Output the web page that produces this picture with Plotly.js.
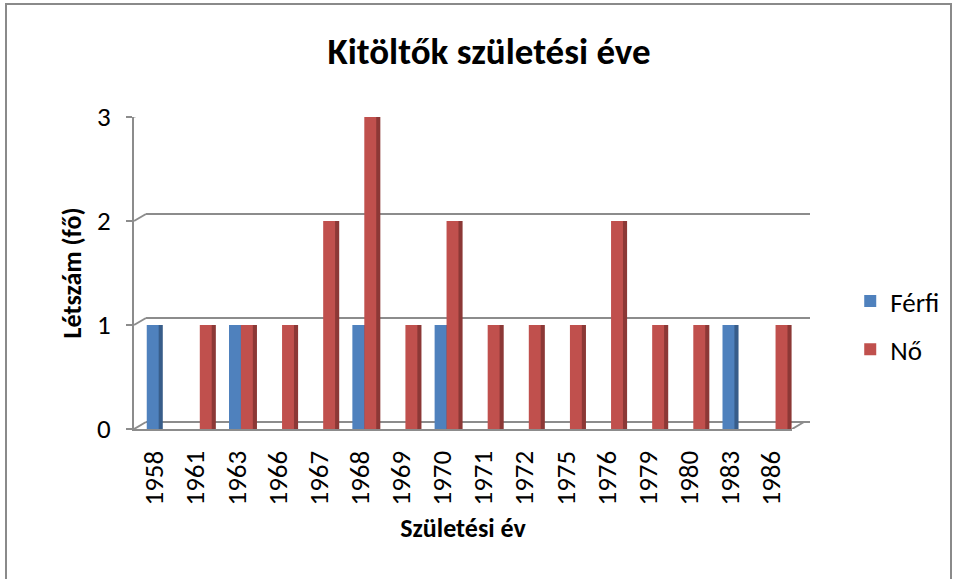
<!DOCTYPE html>
<html>
<head>
<meta charset="utf-8">
<script src="https://cdn.plot.ly/plotly-3.0.1.min.js"></script>
<style>
html,body{margin:0;padding:0;background:#fff;}
#wrap{position:relative;width:957px;height:579px;overflow:hidden;}
#chart{position:absolute;left:0;top:0;width:957px;height:579px;}
#frame{position:absolute;left:5px;top:3px;width:947px;height:600px;border:2px solid #8a8a8a;pointer-events:none;box-sizing:border-box;}
</style>
</head>
<body>
<div id="wrap"><div id="chart"></div><div id="frame"></div></div>
<script>
var years = ['1958','1961','1963','1966','1967','1968','1969','1970','1971','1972','1975','1976','1979','1980','1983','1986'];
var ferfi = [1,0,1,0,0,1,0,1,0,0,0,0,0,0,1,0];
var no    = [0,1,1,1,2,3,1,2,1,1,1,2,1,1,0,1];
var seriesNames = ['Férfi','Nő'];
var colors = ['#4F81BD','#C0504D'];
var sideColors = ['#385D8A','#8C3836'];
var yTicks = [0,1,2,3];

var font = 'Carlito, Calibri, "Liberation Sans", "Open Sans", sans-serif';

var barW = 0.29, depth = 0.1;
var offs = [-0.19, 0.10];
var series = [ferfi, no];
var traces = [];
for (var s = 0; s < 2; s++) {
  traces.push({type:'bar', x:years, y:series[s], showlegend:false, hoverinfo:'skip',
    width:barW, offset:offs[s]+depth, marker:{color:sideColors[s], line:{width:0}}});
  traces.push({type:'bar', name:seriesNames[s], x:years, y:series[s], legendgroup:'g'+s,
    width:barW, offset:offs[s], marker:{color:colors[s], line:{width:0}}});
}

var gridShapes = [];
var gcol = '#8c8c8c';
yTicks.forEach(function(v){
  gridShapes.push({type:'line', layer:'below', xref:'paper', xsizemode:'pixel', xanchor:0,
    x0:12, x1:676, yref:'y', ysizemode:'pixel', yanchor:v, y0:7, y1:7,
    line:{color:gcol, width:2}});
  gridShapes.push({type:'line', layer:'below', xref:'paper', xsizemode:'pixel', xanchor:0,
    x0:0, x1:12, yref:'y', ysizemode:'pixel', yanchor:v, y0:0, y1:7,
    line:{color:gcol, width:2}});
});
gridShapes.push({type:'line', layer:'below', xref:'paper', xsizemode:'pixel', xanchor:1,
  x0:0, x1:12, yref:'y', ysizemode:'pixel', yanchor:0, y0:0, y1:7,
  line:{color:gcol, width:2}});

var layout = {
  width:957, height:579,
  margin:{l:134, r:159, t:117, b:150},
  paper_bgcolor:'#ffffff', plot_bgcolor:'rgba(0,0,0,0)',
  font:{family:font, color:'#000', size:26},
  title:{text:'<b>Kitöltők születési éve</b>', x:0.511, xanchor:'center', y:0.912, yanchor:'middle',
         font:{family:font, size:37, color:'#000'}},
  barmode:'overlay',
  xaxis:{type:'category', showgrid:false, showline:true, linecolor:gcol, linewidth:2,
         tickangle:-90, ticks:'', tickfont:{size:27}, ticklabelstandoff:9, automargin:true,
         title:{text:'<b>Születési év</b>', font:{size:26}, standoff:14}},
  yaxis:{range:[0,3], tickvals:yTicks, showgrid:false, automargin:true,
         showline:true, linecolor:gcol, linewidth:2, ticks:'outside', ticklen:6,
         tickcolor:gcol, tickwidth:2, tickfont:{size:27}, zeroline:false, ticklabelstandoff:10,
         title:{text:'<b>Létszám (fő)</b>', font:{size:26}, standoff:8}},
  shapes:gridShapes,
  showlegend:true,
  legend:{x:1.0885, y:0.487, xanchor:'left', yanchor:'top', traceorder:'grouped', tracegroupgap:10,
          font:{size:27}, bgcolor:'rgba(0,0,0,0)'}
};

Plotly.newPlot('chart', traces, layout, {displayModeBar:false, staticPlot:true});
</script>
</body>
</html>
